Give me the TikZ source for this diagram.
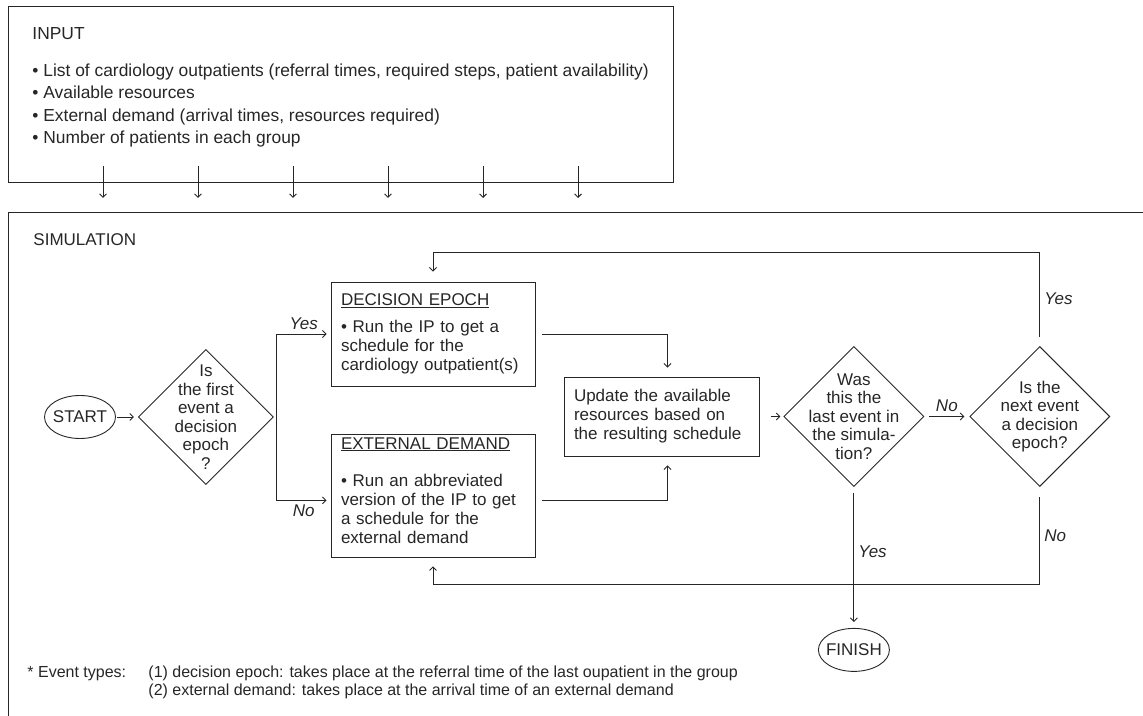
\documentclass[tikz,border=0pt]{standalone}
\usepackage{fontspec}
\setmainfont{Liberation Sans}
\usetikzlibrary{arrows.meta, shapes.geometric, positioning, calc}

\begin{document}
\begin{tikzpicture}[
    x=1pt, y=1pt,
    line width=0.9pt, color=black!85,
    panel/.style={rectangle, inner sep=0pt, anchor=north west},
    box/.style={rectangle, draw, minimum width=204pt, text width=184pt, inner xsep=10pt, inner ysep=0pt, align=left, font=\fontsize{17}{19}\selectfont},
    decision/.style={diamond, draw, inner sep=0pt, minimum width=#1, minimum height=#1},
    terminal/.style={ellipse, draw, inner sep=0pt, minimum width=71pt, minimum height=43pt},
    dtext/.style={align=center, inner sep=0pt, font=\fontsize{17}{18.5}\selectfont},
    answer/.style={font=\fontsize{17}{17}\selectfont\itshape, inner sep=4pt},
    arrow/.style={-{Straight Barb[length=3.5pt, width=7pt]}},
]
\useasboundingbox (0,0) rectangle (1143,715);

% input and simulation panels
\node[panel, draw, minimum width=665pt, minimum height=176pt] (input) at (8,709) {};
\node[panel, minimum width=1135pt, minimum height=503pt] (sim) at (8,503) {};
\draw (sim.north east) -- (sim.north west) -- (sim.south west);

\node[anchor=north west, align=left, inner sep=0pt, font=\fontsize{17.4}{22.5}\selectfont] (inputtext) at ([xshift=24pt, yshift=-21pt]input.north west)
    {INPUT\\[14.5pt]
     • List of cardiology outpatients (referral times, required steps, patient availability)\\
     • Available resources\\
     • External demand (arrival times, resources required)\\
     • Number of patients in each group};
\node[anchor=west, inner sep=0pt, font=\fontsize{17}{19}\selectfont] (simtitle) at ([xshift=25pt, yshift=-28pt]sim.north west) {SIMULATION};

\foreach \i in {1,...,6}
    \draw[arrow, shorten <=-17pt, shorten >=14pt] ($(input.south west)+(\i*95,0)$) -- ($(input.south west |- sim.north)+(\i*95,0)$);

% flow
\node[terminal, label={[dtext]center:START}] (start) at (80,298) {};
\node[decision=135pt, right=22pt of start, label={[dtext]center:{Is\\the first\\event a\\decision\\epoch\\?}}] (first) {};
\node[box, minimum height=104pt] (dec) at (433,381)
    {\underline{DECISION EPOCH}\\[8pt]• Run the IP to get a\\schedule for the\\cardiology outpatient(s)};
\node[box, minimum height=123pt, below=48pt of dec] (ext)
    {\underline{EXTERNAL DEMAND}\\[18pt]• Run an abbreviated\\version of the IP to get\\a schedule for the\\external demand\rule[-12pt]{0pt}{12pt}};
\node[box, minimum width=195pt, text width=175pt, minimum height=79pt] (update) at (661.5,298.5)
    {Update the available\\resources based on\\the resulting schedule};
\node[decision=140pt, right=24pt of update, label={[dtext]center:{Was\\this the\\last event in\\the simula-\\tion?}}] (last) {};
\node[decision=140pt, right=45pt of last, label={[dtext]center:{Is the\\next event\\a decision\\epoch?}}] (next) {};
\node[terminal, below=141pt of last, label={[dtext]center:FINISH}] (finish) {};

\node[anchor=north west, inner sep=0pt, font=\fontsize{16}{18}\selectfont] (events) at (27,51)
    {\begin{tabular}{@{}p{121pt}@{}l@{}}
     * Event types: & (1) decision epoch: takes place at the referral time of the last oupatient in the group\\
                    & (2) external demand: takes place at the arrival time of an external demand
     \end{tabular}};

\draw[arrow, shorten <=1pt, shorten >=4pt] (start) -- (first);
\draw[arrow, shorten >=4pt] ([xshift=3pt]first.east) |- node[answer, above, pos=0.75] {Yes} (dec.west);
\draw[arrow, shorten >=4pt] ([xshift=3pt]first.east) |- node[answer, below, pos=0.75] {No} ([yshift=-4pt]ext.west);
\draw[arrow, shorten <=7pt, shorten >=9pt] (dec.east) -| ([xshift=6pt]update.north);
\draw[arrow, shorten <=7pt, shorten >=9pt] ([yshift=-4pt]ext.east) -| ([xshift=6pt]update.south);
\draw[arrow, shorten <=12pt, shorten >=3pt] (update) -- (last);
\draw[arrow, shorten <=5pt, shorten >=5pt] (last) -- node[answer, above] {No} (next);
\draw[arrow, shorten <=9pt, shorten >=10pt] (next.north) -- ++(0,94) node[answer, right, midway] {Yes} -| (dec.north);
\draw[arrow, shorten <=10pt, shorten >=8pt] (next.south) -- ++(0,-98) node[answer, right, midway] {No} -| (ext.south);
\draw[arrow, shorten <=6pt, shorten >=6pt] (last.south) -- node[answer, right, pos=0.46] {Yes} (finish.north);

\end{tikzpicture}
\end{document}
